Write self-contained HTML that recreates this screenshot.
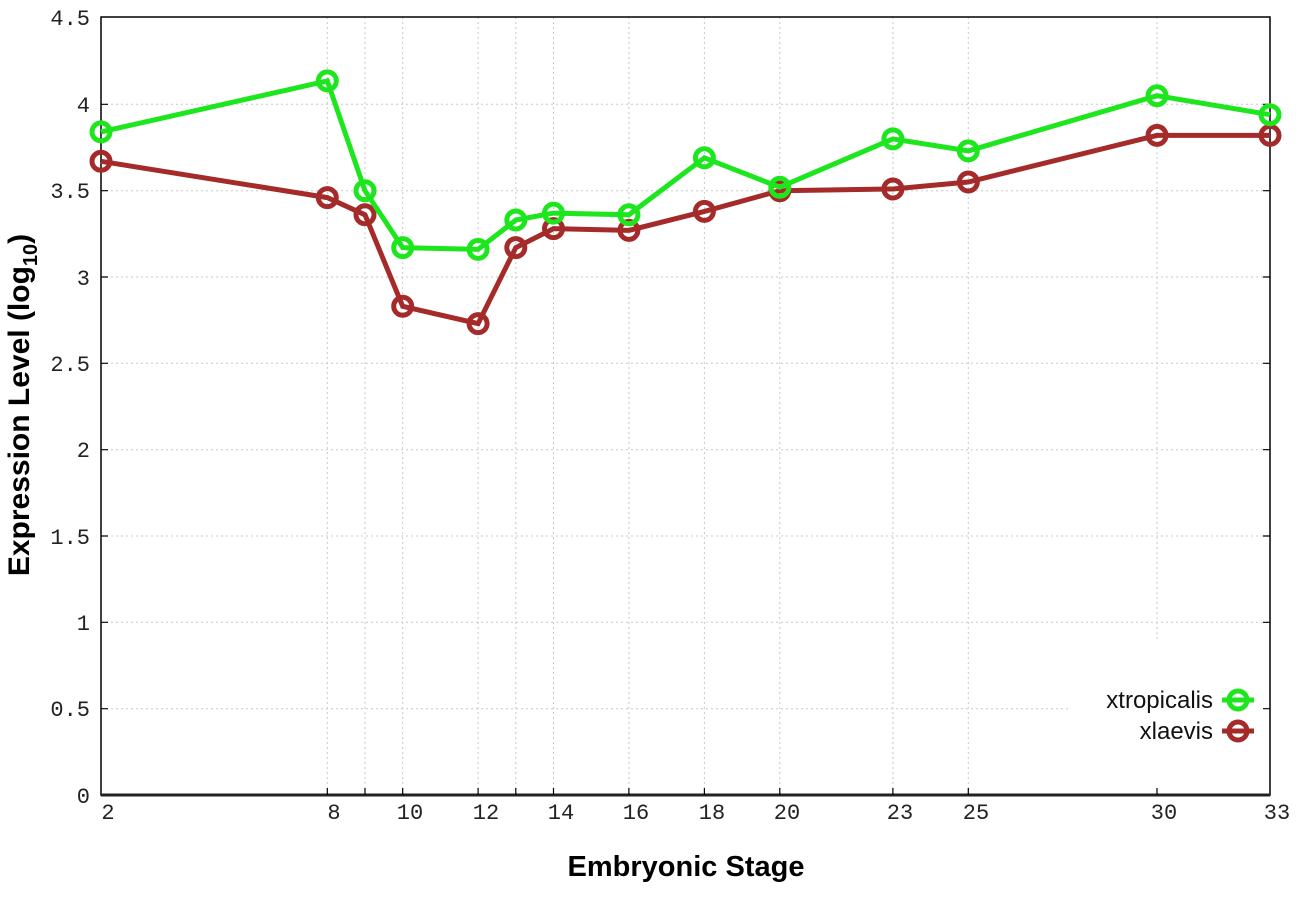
<!DOCTYPE html><html><head><style>body{margin:0;background:#fff}svg{display:block}</style></head><body>
<svg width="1296" height="907" xmlns="http://www.w3.org/2000/svg">
<g stroke="#c8c8c8" stroke-width="1" stroke-dasharray="2,3">
<line x1="101" y1="708.7" x2="1070" y2="708.7"/><line x1="101" y1="622.3" x2="1270" y2="622.3"/><line x1="101" y1="536" x2="1270" y2="536"/><line x1="101" y1="449.7" x2="1270" y2="449.7"/><line x1="101" y1="363.3" x2="1270" y2="363.3"/><line x1="101" y1="277" x2="1270" y2="277"/><line x1="101" y1="190.7" x2="1270" y2="190.7"/><line x1="101" y1="104.3" x2="1270" y2="104.3"/>
<line x1="327.3" y1="17" x2="327.3" y2="795"/><line x1="365" y1="17" x2="365" y2="795"/><line x1="402.7" y1="17" x2="402.7" y2="795"/><line x1="478.1" y1="17" x2="478.1" y2="795"/><line x1="515.8" y1="17" x2="515.8" y2="795"/><line x1="553.5" y1="17" x2="553.5" y2="795"/><line x1="628.9" y1="17" x2="628.9" y2="795"/><line x1="704.4" y1="17" x2="704.4" y2="795"/><line x1="779.8" y1="17" x2="779.8" y2="795"/><line x1="892.9" y1="17" x2="892.9" y2="795"/><line x1="968.3" y1="17" x2="968.3" y2="795"/><line x1="1157" y1="17" x2="1157" y2="640"/>
</g>
<rect x="101" y="17" width="1169" height="778" fill="none" stroke="#000" stroke-width="1.5"/>
<line x1="101" y1="795" x2="1270" y2="795" stroke="#222" stroke-width="3"/>
<g stroke="#000" stroke-width="1.2">
<path d="M101 708.7h7M101 622.3h7M101 536h7M101 449.7h7M101 363.3h7M101 277h7M101 190.7h7M101 104.3h7M1270 708.7h-7M1270 622.3h-7M1270 536h-7M1270 449.7h-7M1270 363.3h-7M1270 277h-7M1270 190.7h-7M1270 104.3h-7"/>
<path d="M327.3 795v-7M365 795v-7M402.7 795v-7M478.1 795v-7M515.8 795v-7M553.5 795v-7M628.9 795v-7M704.4 795v-7M779.8 795v-7M892.9 795v-7M968.3 795v-7M1157 795v-7"/>
</g>
<g font-family="Liberation Mono, monospace" font-size="22" fill="#222" text-anchor="end">
<text x="90" y="25">4.5</text><text x="90" y="112">4</text><text x="90" y="198">3.5</text><text x="90" y="285">3</text><text x="90" y="371">2.5</text><text x="90" y="457">2</text><text x="90" y="544">1.5</text><text x="90" y="630">1</text><text x="90" y="716">0.5</text><text x="90" y="803">0</text>
</g>
<g font-family="Liberation Mono, monospace" font-size="22" fill="#222" text-anchor="middle">
<text x="108" y="819">2</text><text x="334" y="819">8</text><text x="410" y="819">10</text><text x="486" y="819">12</text><text x="561" y="819">14</text><text x="636" y="819">16</text><text x="712" y="819">18</text><text x="787" y="819">20</text><text x="900" y="819">23</text><text x="976" y="819">25</text><text x="1164" y="819">30</text><text x="1277" y="819">33</text>
</g>
<text x="686" y="876" font-family="Liberation Sans, sans-serif" font-weight="bold" font-size="29" text-anchor="middle">Embryonic Stage</text>
<text transform="translate(29,405) rotate(-90)" font-family="Liberation Sans, sans-serif" font-weight="bold" font-size="30" text-anchor="middle">Expression Level (log<tspan font-size="20" dy="8">10</tspan><tspan dy="-8">)</tspan></text>
<g fill="none" stroke="#a52a2a" stroke-width="5">
<polyline points="101,161.3 327.3,197.6 365,214.8 402.7,306.3 478.1,323.6 515.8,247.6 553.5,228.6 628.9,230.4 704.4,211.4 779.8,190.7 892.9,189 968.3,182 1157,135.4 1270,135.4"/>
<g stroke-width="5"><circle cx="101" cy="161.3" r="9"/><circle cx="327.3" cy="197.6" r="9"/><circle cx="365" cy="214.8" r="9"/><circle cx="402.7" cy="306.3" r="9"/><circle cx="478.1" cy="323.6" r="9"/><circle cx="515.8" cy="247.6" r="9"/><circle cx="553.5" cy="228.6" r="9"/><circle cx="628.9" cy="230.4" r="9"/><circle cx="704.4" cy="211.4" r="9"/><circle cx="779.8" cy="190.7" r="9"/><circle cx="892.9" cy="189" r="9"/><circle cx="968.3" cy="182" r="9"/><circle cx="1157" cy="135.4" r="9"/><circle cx="1270" cy="135.4" r="9"/></g>
</g>
<g fill="none" stroke="#1ee61e" stroke-width="5">
<polyline points="101,131.9 327.3,80.9 365,190.7 402.7,247.6 478.1,249.4 515.8,220 553.5,213.1 628.9,214.8 704.4,157.8 779.8,187.2 892.9,138.9 968.3,150.9 1157,95.7 1270,114.7"/>
<g stroke-width="5"><circle cx="101" cy="131.9" r="9"/><circle cx="327.3" cy="80.9" r="9"/><circle cx="365" cy="190.7" r="9"/><circle cx="402.7" cy="247.6" r="9"/><circle cx="478.1" cy="249.4" r="9"/><circle cx="515.8" cy="220" r="9"/><circle cx="553.5" cy="213.1" r="9"/><circle cx="628.9" cy="214.8" r="9"/><circle cx="704.4" cy="157.8" r="9"/><circle cx="779.8" cy="187.2" r="9"/><circle cx="892.9" cy="138.9" r="9"/><circle cx="968.3" cy="150.9" r="9"/><circle cx="1157" cy="95.7" r="9"/><circle cx="1270" cy="114.7" r="9"/></g>
</g>
<g font-family="Liberation Sans, sans-serif" font-size="24" fill="#111" text-anchor="end">
<text x="1213" y="708">xtropicalis</text><text x="1213" y="739">xlaevis</text>
</g>
<g fill="none" stroke-width="5">
<path d="M1222 700h32" stroke="#1ee61e"/><circle cx="1238" cy="700" r="9" stroke="#1ee61e"/>
<path d="M1222 731h32" stroke="#a52a2a"/><circle cx="1238" cy="731" r="9" stroke="#a52a2a"/>
</g>
</svg>
</body></html>
